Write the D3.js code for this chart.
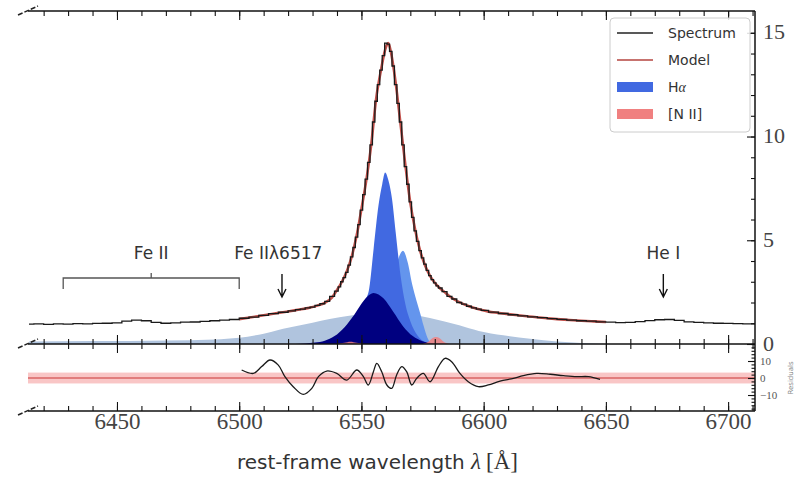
<!DOCTYPE html>
<html lang="en">
<head>
<meta charset="UTF-8">
<title>H-alpha spectral fit</title>
<script src="https://d3js.org/d3.v7.min.js"></script>
<style>
  body { margin: 0; background: #fff; }
  svg { display: block; }
</style>
</head>
<body>
<svg id="chart" width="795" height="477"></svg>
<script>
// observed spectrum (rest-frame wavelength, flux)
const specWave = [6414, 6418, 6422, 6426, 6430, 6434, 6438, 6442, 6446, 6450, 6454, 6458, 6462, 6466, 6470, 6474, 6478, 6482, 6486, 6490, 6494, 6498, 6502, 6506, 6510, 6514, 6518, 6522,
  6524, 6526, 6528, 6530, 6532, 6534, 6536, 6538,
  6540, 6541, 6542, 6543, 6544, 6545, 6546, 6547, 6548, 6549, 6550, 6551, 6552, 6553, 6554, 6555, 6556, 6557, 6558, 6559, 6560, 6561, 6562, 6563, 6564, 6565, 6566, 6567, 6568, 6569, 6570, 6571, 6572, 6573, 6574, 6575, 6576, 6577, 6578, 6579, 6580, 6581, 6582,
  6584, 6586, 6588, 6590, 6592, 6594, 6596, 6598, 6600,
  6604, 6608, 6612, 6616, 6620, 6624, 6628, 6632, 6636, 6640, 6644, 6648, 6652, 6656, 6660, 6664, 6668, 6672, 6676, 6680, 6684, 6688, 6692, 6696, 6700, 6704, 6708, 6712];
const specFlux = [0.96, 0.97, 0.95, 0.97, 0.96, 0.98, 0.97, 0.99, 1.0, 1.02, 1.1, 1.15, 1.12, 1.04, 1.0, 1.02, 1.05, 1.06, 1.09, 1.12, 1.15, 1.18, 1.24, 1.3, 1.38, 1.46, 1.53, 1.6,
  1.66, 1.68, 1.74, 1.78, 1.86, 1.94, 2.05, 2.3,
  2.55, 2.75, 3.0, 3.2, 3.45, 3.8, 4.2, 4.65, 5.15, 5.75, 6.45, 7.2, 7.95, 8.75, 9.6, 10.7, 11.7, 12.5, 13.2, 13.9, 14.5, 14.45, 14.1, 13.4, 12.5, 11.6, 10.7, 9.6, 8.55, 7.7, 6.85, 6.1, 5.45, 4.95, 4.5, 4.15, 3.85, 3.55, 3.3, 3.1, 2.95, 2.8, 2.7,
  2.52, 2.3, 2.17, 2.0, 1.92, 1.82, 1.74, 1.68, 1.62,
  1.54, 1.47, 1.41, 1.36, 1.31, 1.27, 1.22, 1.19, 1.15, 1.12, 1.1, 1.07, 1.05, 1.03, 1.04, 1.08, 1.13, 1.17, 1.18, 1.14, 1.07, 1.04, 1.02, 1.0, 0.99, 0.98, 0.97, 0.97];

// best-fit model
const modelWave = [6500, 6505, 6510, 6515, 6520, 6524, 6528, 6532, 6535, 6538, 6540, 6542, 6544, 6546, 6548, 6550, 6552, 6554, 6556, 6558, 6560, 6561, 6562, 6564, 6566, 6568, 6570, 6572, 6574, 6576, 6578, 6580, 6582, 6584, 6586, 6588, 6590, 6594, 6598, 6602, 6606, 6610, 6615, 6620, 6625, 6630, 6635, 6640, 6645, 6650];
const modelFlux = [1.2, 1.29, 1.39, 1.48, 1.57, 1.65, 1.73, 1.85, 1.98, 2.25, 2.6, 3.0, 3.5, 4.2, 5.2, 6.5, 7.9, 9.6, 11.8, 13.2, 14.3, 14.5, 14.1, 12.6, 10.6, 8.6, 6.8, 5.5, 4.5, 3.8, 3.3, 2.95, 2.7, 2.5, 2.3, 2.15, 2.02, 1.82, 1.67, 1.56, 1.5, 1.44, 1.37, 1.31, 1.25, 1.2, 1.16, 1.12, 1.09, 1.06];

// H-alpha components
const broadWave = [6414, 6440, 6470, 6490, 6500, 6510, 6516, 6520, 6530, 6537, 6545, 6552, 6558, 6566, 6572, 6578, 6590, 6598, 6608, 6619, 6630, 6640, 6650];
const broadFlux = [0.12, 0.14, 0.17, 0.22, 0.3, 0.5, 0.68, 0.78, 1.02, 1.2, 1.36, 1.47, 1.52, 1.47, 1.38, 1.25, 0.9, 0.63, 0.42, 0.25, 0.12, 0.05, 0];
const wideWave = [6523, 6527, 6531, 6535, 6539, 6543, 6547, 6551, 6555, 6559, 6563, 6567, 6571, 6575, 6579, 6584];
const wideFlux = [0, 0.02, 0.07, 0.16, 0.38, 0.8, 1.4, 2.1, 2.46, 2.2, 1.55, 0.86, 0.38, 0.13, 0.04, 0];
const narrowWave = [6543, 6546, 6549, 6551, 6553, 6555, 6557, 6558.5, 6559.7, 6561, 6562.5, 6564, 6566, 6568, 6570, 6573, 6576, 6579];
const narrowFlux = [0.1, 0.4, 1.2, 2.0, 2.55, 4.6, 6.7, 7.7, 8.26, 7.9, 7.0, 5.4, 3.3, 1.9, 1.1, 0.4, 0.1, 0];
const redWave = [6552, 6556, 6559, 6562, 6564.5, 6567, 6569, 6570.7, 6572.5, 6574, 6575.5, 6577, 6579];
const redFlux = [0, 0.4, 1.3, 2.7, 3.9, 4.5, 3.9, 2.9, 2.1, 1.5, 0.85, 0.3, 0];

// [N II] doublet
const nii1Wave = [6540, 6543, 6545.5, 6548, 6551];
const nii1Flux = [0, 0.06, 0.11, 0.06, 0];
const nii2Wave = [6575, 6577.5, 6579, 6580.5, 6582, 6583.5, 6586];
const nii2Flux = [0, 0.12, 0.28, 0.34, 0.28, 0.12, 0];

// residuals
const resWave = [6501, 6505.8, 6509.2, 6512.6, 6516, 6518.7, 6522.1, 6526.2, 6529.7, 6532.4, 6535.8, 6539.9, 6544, 6548.1, 6550.8, 6552.8, 6554.9, 6556.3, 6558.3, 6560.4, 6562.4, 6564.4, 6566.5, 6568.5, 6570.6, 6572.6, 6575.3, 6578.1, 6581.5, 6584.2, 6586.9, 6590.3, 6593.7, 6597.8, 6601.9, 6606.7, 6612.2, 6616.2, 6621.7, 6627.2, 6632.6, 6638.1, 6642.9, 6647.6];
const resVal = [4.7, 2.7, 6.7, 10.6, 7.6, 0.8, -5.1, -9.6, -6.1, 0.8, 4.1, 2.7, -1.2, 4.7, 0.8, -4.1, 3.7, 8.6, 3.7, -4.1, -6.1, 1.8, 6.7, 3.7, -4.1, -0.2, 2.7, -2.2, 6.7, 11.6, 9.6, 2.7, -2.2, -5.1, -4.1, -1.8, -0.2, 1.4, 2.7, 2.2, 1.4, 0.8, 0.8, -0.8];

// axis ticks
const xMajorTicks = [6450, 6500, 6550, 6600, 6650, 6700];
const yMajorTicks = [0, 5, 10, 15];
const resMajorTicks = [-10, 0, 10];

// annotations
const feBand = [6428, 6500];
const lineMarks = [
  { label: "Fe II", sub: "λ6517", wave: 6517.5, textX: 6516 },
  { label: "He I", sub: "", wave: 6673.5, textX: 6673.5 }
];

const legendItems = [
  { label: "Spectrum", type: "line", color: "#222" },
  { label: "Model", type: "line", color: "#b5443f" },
  { label: "H", greek: "α", type: "patch", color: "#4169e1" },
  { label: "[N II]", type: "patch", color: "#f08080" }
];

const svg = d3.select("#chart");
const left = 28, right = 755;
const mainTop = 11, mainBottom = 344, resTop = 344, resBottom = 411;
const serif = "'Liberation Serif', 'DejaVu Serif', serif";
const sans = "'DejaVu Sans', sans-serif";

const x = d3.scaleLinear().domain([6413.6, 6711]).range([left, right]);
const y = d3.scaleLinear().domain([0, 16.05]).range([mainBottom, mainTop]);
const yRes = d3.scaleLinear().domain([-19.4, 20]).range([resBottom, resTop]);

const defs = svg.append("defs");
defs.append("clipPath").attr("id", "clipMain").append("rect")
  .attr("x", left).attr("y", mainTop).attr("width", right - left).attr("height", mainBottom - mainTop);
defs.append("clipPath").attr("id", "clipRes").append("rect")
  .attr("x", left).attr("y", resTop).attr("width", right - left).attr("height", resBottom - resTop);

const main = svg.append("g").attr("clip-path", "url(#clipMain)");
const area = d3.area().x(d => x(d[0])).y0(y(0)).y1(d => y(d[1])).curve(d3.curveMonotoneX);
const comps = [
  [broadWave, broadFlux, "#b0c4de", 1],
  [redWave, redFlux, "#6495ed", 1],
  [narrowWave, narrowFlux, "#4169e1", 1],
  [wideWave, wideFlux, "#000080", 1],
  [nii1Wave, nii1Flux, "#f08080", 0.85],
  [nii2Wave, nii2Flux, "#f08080", 0.85]
];
comps.forEach(c => {
  main.append("path").datum(d3.zip(c[0], c[1]))
    .attr("d", area).attr("fill", c[2]).attr("opacity", c[3]);
});

main.append("path").datum(d3.zip(modelWave, modelFlux))
  .attr("d", d3.line().x(d => x(d[0])).y(d => y(d[1])).curve(d3.curveMonotoneX))
  .attr("fill", "none").attr("stroke", "#c0504a").attr("stroke-width", 2.6);
main.append("path").datum(d3.zip(specWave, specFlux))
  .attr("d", d3.line().x(d => x(d[0])).y(d => y(d[1])).curve(d3.curveStep))
  .attr("fill", "none").attr("stroke", "#1a1a1a").attr("stroke-width", 1.3);

// residual panel
const res = svg.append("g").attr("clip-path", "url(#clipRes)");
res.append("rect").attr("x", left).attr("width", right - left)
  .attr("y", yRes(3.2)).attr("height", yRes(-3.2) - yRes(3.2))
  .attr("fill", "#f7b3b3").attr("opacity", 0.75);
res.append("line").attr("x1", left).attr("x2", right).attr("y1", yRes(0)).attr("y2", yRes(0))
  .attr("stroke", "#d96565").attr("stroke-width", 1.4);
res.append("path").datum(d3.zip(resWave, resVal))
  .attr("d", d3.line().x(d => x(d[0])).y(d => yRes(d[1])).curve(d3.curveCatmullRom))
  .attr("fill", "none").attr("stroke", "#1a1a1a").attr("stroke-width", 1.3);

// axes
function ticks(axis, tx, ty) {
  const g = svg.append("g").attr("transform", `translate(${tx},${ty})`).call(axis);
  g.select(".domain").remove();
  g.selectAll("line").attr("stroke", "#111").attr("stroke-width", 1.1);
  return g;
}
const xMinor = d3.range(6420, 6711, 10);
[mainTop, resTop].forEach(yy => {
  ticks(d3.axisTop(x).tickValues(xMinor).tickSize(-5).tickFormat(""), 0, yy);
  ticks(d3.axisTop(x).tickValues(xMajorTicks).tickSize(-9).tickFormat(""), 0, yy);
});
[mainBottom, resBottom].forEach(yy => {
  ticks(d3.axisBottom(x).tickValues(xMinor).tickSize(-5).tickFormat(""), 0, yy);
});
ticks(d3.axisBottom(x).tickValues(xMajorTicks).tickSize(-9).tickFormat(""), 0, mainBottom);
ticks(d3.axisBottom(x).tickValues(xMajorTicks).tickSize(-9).tickPadding(2).tickFormat(d3.format("d")), 0, resBottom)
  .selectAll("text").style("font-family", serif).style("font-size", "23px").attr("fill", "#444");

ticks(d3.axisRight(y).tickValues(d3.range(0, 16, 1)).tickSize(-4).tickFormat(""), right, 0);
ticks(d3.axisRight(y).tickValues(yMajorTicks).tickSize(-8).tickPadding(8).tickFormat(d3.format("d")), right, 0)
  .selectAll("text").style("font-family", serif).style("font-size", "22px").attr("fill", "#444")
  .attr("dy", "0.28em");

ticks(d3.axisRight(yRes).tickValues(d3.range(-18, 20, 2)).tickSize(-3.5).tickFormat(""), right, 0);
ticks(d3.axisRight(yRes).tickValues(resMajorTicks).tickSize(-7).tickPadding(5).tickFormat(d3.format("d")), right, 0)
  .selectAll("text").style("font-family", serif).style("font-size", "11px").attr("fill", "#555");

// spines (no left spine: broken axis)
const spines = [[left, mainTop, right, mainTop], [left, mainBottom, right, mainBottom],
  [left, resBottom, right, resBottom], [right, mainTop, right, resBottom]];
spines.forEach(s => {
  svg.append("line").attr("x1", s[0]).attr("y1", s[1]).attr("x2", s[2]).attr("y2", s[3])
    .attr("stroke", "#111").attr("stroke-width", 1.5);
});
[mainTop, mainBottom, resBottom].forEach(yy => {
  svg.append("line").attr("x1", left - 10).attr("y1", yy + 4).attr("x2", left + 10).attr("y2", yy - 5)
    .attr("stroke", "#222").attr("stroke-width", 1.5).attr("stroke-dasharray", "5,2");
});

svg.append("text").attr("transform", `translate(791,${yRes(0)}) rotate(-90)`)
  .attr("text-anchor", "middle").attr("dy", "0.35em")
  .style("font-family", sans).style("font-size", "7px").attr("fill", "#888").text("Residuals");

// annotations
const ann = svg.append("g").attr("stroke", "#555").attr("stroke-width", 1.3).attr("fill", "none");
ann.append("path").attr("d",
  `M${x(feBand[0])},289V278H${x(feBand[1])}V289M${x((feBand[0] + feBand[1]) / 2)},278V273`);
svg.append("text").attr("x", x((feBand[0] + feBand[1]) / 2)).attr("y", 259)
  .attr("text-anchor", "middle").style("font-family", sans).style("font-size", "17px")
  .attr("fill", "#333").text("Fe II");

lineMarks.forEach(m => {
  const t = svg.append("text").attr("x", x(m.textX)).attr("y", 259).attr("text-anchor", "middle")
    .style("font-family", sans).style("font-size", "17px").attr("fill", "#333").text(m.label);
  if (m.sub) t.append("tspan").text(m.sub);
  const ax = x(m.wave);
  svg.append("path").attr("d", `M${ax},274V297M${ax - 4},289L${ax},297L${ax + 4},289`)
    .attr("fill", "none").attr("stroke", "#111").attr("stroke-width", 1.4);
});

// x-axis label
const xl = svg.append("text").attr("x", 237).attr("y", 469).attr("fill", "#333");
xl.append("tspan").style("font-family", sans).style("font-size", "20px").text("rest-frame wavelength ");
xl.append("tspan").style("font-family", serif).style("font-style", "italic").style("font-size", "23px").text("λ");
xl.append("tspan").style("font-family", serif).style("font-size", "23px").attr("dx", 5).text("[Å]");

// legend
const lg = svg.append("g").attr("transform", "translate(610,18)");
lg.append("rect").attr("width", 140).attr("height", 114).attr("rx", 4)
  .attr("fill", "#fff").attr("fill-opacity", 0.85).attr("stroke", "#ccc");
legendItems.forEach((d, i) => {
  const cy = 15 + i * 27;
  if (d.type === "line") {
    lg.append("line").attr("x1", 7).attr("x2", 43).attr("y1", cy).attr("y2", cy)
      .attr("stroke", d.color).attr("stroke-width", 1.5);
  } else {
    lg.append("rect").attr("x", 7).attr("y", cy - 5).attr("width", 36).attr("height", 10).attr("fill", d.color);
  }
  const t = lg.append("text").attr("x", 58).attr("y", cy).attr("dy", "0.35em")
    .style("font-family", sans).style("font-size", "14px").attr("fill", "#333").text(d.label);
  if (d.greek) t.append("tspan").style("font-family", serif).style("font-style", "italic").text(d.greek);
});
</script>
</body>
</html>
